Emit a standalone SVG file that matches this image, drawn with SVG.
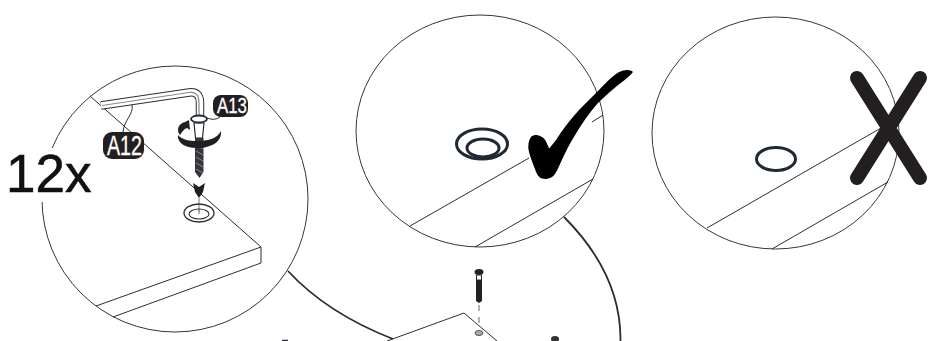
<svg xmlns="http://www.w3.org/2000/svg" width="945" height="341" viewBox="0 0 945 341">
<style>
.l{fill:none;stroke:#2a2d33;stroke-width:1}
.c{fill:#fff;stroke:#33363b;stroke-width:1}
.k{fill:none;stroke:#2a2d33;stroke-width:1.800}
.r{fill:none;stroke:#1f2933;stroke-width:3}
.b{fill:#231f20}
.t{font-family:"Liberation Sans",Arial,sans-serif;fill:#fff;stroke:#fff;stroke-width:.3;text-anchor:start}
</style>
<g id="connectors">
<path class="k" d="M288 271C312 297 347 321 393 339"/>
<path class="k" d="M564 217C597 250 621 290 620.500 341"/>
</g>
<g id="detail-left">
<ellipse class="c" cx="175" cy="199" rx="133" ry="133"/>
<path class="l" d="M90 96L261 247L96 306M261 247V263L113 317"/>
<path d="M101 105.500L189 92.500Q200 91 200 103V116" fill="none" stroke="#2a2d33" stroke-width="8.500"/>
<path d="M101 105.500L189 92.500Q200 91 200 103V116" fill="none" stroke="#fff" stroke-width="6.500"/>
<path d="M102 105.500L189 92.500Q199 91 199 103V116" fill="none" stroke="#888" stroke-width="1.200"/>
<path fill="#fff" stroke="#2a2d33" stroke-width="1.200" d="M194 123H204L202.500 138H195.500Z"/>
<ellipse cx="199" cy="119" rx="8" ry="3.500" fill="#fff" stroke="#1f2933" stroke-width="1.800"/>
<path fill="#33363b" d="M195 138H203.500V172L199.500 178L195 172Z"/>
<path d="M196 145L203 149M196 151L203 155M196 157L203 161M196 163L203 167M196 169L203 173" stroke="#888" stroke-width="1" fill="none"/>
<path class="b" d="M178 135C182 140 190 141 197 141C207 141 217 139 221 131C222 140 214 148 197 148C184 148 177 142 178 135Z"/>
<path class="b" d="M178 130C178 126 181 123 185 122L189 120L190 130L187 128C184 129 182 132 180 135C179 134 178 132 178 130Z"/>
<path class="b" d="M193 183L199 187L205 183L203 192L199 198L195 192Z"/>
<path d="M199 198V212" stroke="#777" stroke-width="1" fill="none"/>
<ellipse cx="199" cy="213" rx="15" ry="9" fill="none" stroke="#2a2d33" stroke-width="1.300"/>
<ellipse cx="199" cy="214" rx="10" ry="5" fill="none" stroke="#2a2d33" stroke-width="1.100"/>
<path d="M199 209V214" stroke="#777" stroke-width="1" fill="none"/>
<path class="l" d="M132 105C134 114 124 120 123 132M207 118C212 120 218 120 222 115"/>
<rect x="103" y="132" width="41" height="27" rx="9" class="b"/>
<text x="107" y="155" class="t" font-size="27" textLength="35" lengthAdjust="spacingAndGlyphs">A12</text>
<rect x="213" y="95" width="35" height="22" rx="8" class="b"/>
<text x="217" y="113" class="t" font-size="22" textLength="30" lengthAdjust="spacingAndGlyphs">A13</text>
</g>
<g id="label-12x">
<rect x="5" y="148" width="85" height="54" fill="#fff"/>
<text x="6" y="192" font-family="Liberation Sans,Arial,sans-serif" font-size="53" fill="#111" stroke="#111" stroke-width=".6">12x</text>
</g>
<g id="detail-ok">
<ellipse class="c" cx="480" cy="131" rx="124" ry="116"/>
<path class="l" d="M410 226L529 158M592 122L603 115M475 247L593 179"/>
<ellipse class="r" cx="482" cy="144" rx="25.500" ry="15"/>
<ellipse class="r" cx="483" cy="148" rx="16" ry="9"/>
<path fill="#000" stroke="#000" stroke-width="1.500" stroke-linejoin="round" d="M632 72C628 70 623 71 619 73C612 77 606 84 600 90L580 110C571 120 563 130 557 140L549 150L545 141C543 137 537 135 534 136C530 137 529 143 529 148C530 155 533 162 535 167C537 173 539 178 544 178C550 179 554 175 556 171C561 160 566 148 573 137C580 125 589 112 597 103C604 96 611 90 617 85C622 81 628 77 632 72Z"/>
</g>
<g id="detail-bad">
<ellipse class="c" cx="775.500" cy="133" rx="123.500" ry="116"/>
<path class="l" d="M707 228L881 128M772 249L888 182"/>
<ellipse cx="776" cy="159" rx="19.500" ry="11.500" fill="none" stroke="#1f2933" stroke-width="3"/>
<path d="M857 78L920 178M920 78L857 178" fill="none" stroke="#231f20" stroke-width="14" stroke-linecap="round"/>
</g>
<g id="panel">
<path class="l" d="M387 341L464 313L497 341"/>
<ellipse cx="479" cy="272" rx="4.500" ry="3" fill="#222"/>
<path d="M476.500 275H481.500V280H476.500Z" fill="#fff" stroke="#222"/>
<path d="M476 280H482V301L479 303L476 301Z" fill="#222"/>
<path d="M479 305V323" stroke="#666" stroke-dasharray="6 6" fill="none"/>
<ellipse cx="479" cy="333" rx="4" ry="2.500" fill="#aaa" stroke="#555"/>
<ellipse cx="555" cy="339" rx="4" ry="3" fill="#333"/>
<path d="M282 340.500H288" fill="none" stroke="#2a2d33" stroke-width="1.500"/>
</g>
</svg>
